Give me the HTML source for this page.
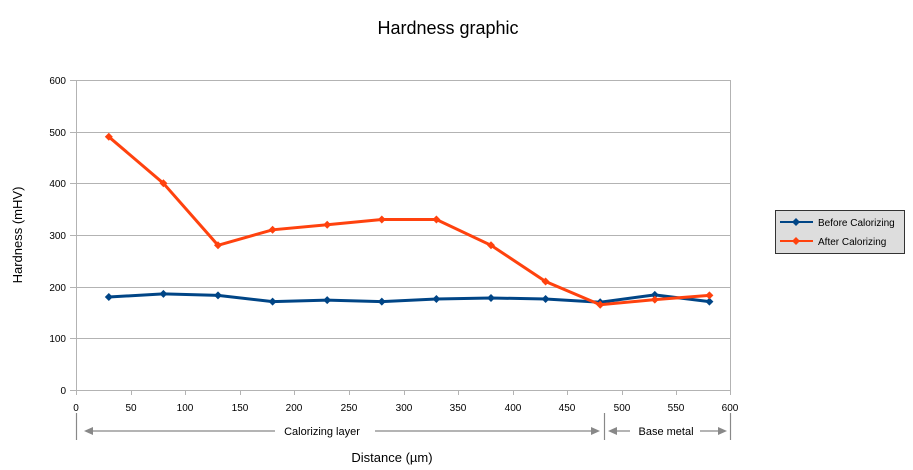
<!DOCTYPE html><html><head><meta charset="utf-8"><style>body{margin:0;background:#fff}svg{display:block;font-family:"Liberation Sans",sans-serif}</style></head><body>
<svg width="913" height="470" xmlns="http://www.w3.org/2000/svg">
<text x="448" y="34" font-size="18" text-anchor="middle">Hardness graphic</text>
<g stroke="#b3b3b3" stroke-width="1">
<line x1="76" y1="80.5" x2="731" y2="80.5"/><line x1="76" y1="132.5" x2="731" y2="132.5"/><line x1="76" y1="183.5" x2="731" y2="183.5"/><line x1="76" y1="235.5" x2="731" y2="235.5"/><line x1="76" y1="287.5" x2="731" y2="287.5"/><line x1="76" y1="338.5" x2="731" y2="338.5"/>
<line x1="730.5" y1="80" x2="730.5" y2="390"/>
<line x1="70" y1="390.5" x2="731" y2="390.5"/><line x1="76.5" y1="80" x2="76.5" y2="395"/>
<line x1="70" y1="80.5" x2="76" y2="80.5"/><line x1="70" y1="132.5" x2="76" y2="132.5"/><line x1="70" y1="183.5" x2="76" y2="183.5"/><line x1="70" y1="235.5" x2="76" y2="235.5"/><line x1="70" y1="287.5" x2="76" y2="287.5"/><line x1="70" y1="338.5" x2="76" y2="338.5"/>
</g>
<g stroke="#b3b3b3">
<line x1="131.5" y1="390" x2="131.5" y2="395"/><line x1="185.5" y1="390" x2="185.5" y2="395"/><line x1="240.5" y1="390" x2="240.5" y2="395"/><line x1="294.5" y1="390" x2="294.5" y2="395"/><line x1="349.5" y1="390" x2="349.5" y2="395"/><line x1="404.5" y1="390" x2="404.5" y2="395"/><line x1="458.5" y1="390" x2="458.5" y2="395"/><line x1="513.5" y1="390" x2="513.5" y2="395"/><line x1="567.5" y1="390" x2="567.5" y2="395"/><line x1="622.5" y1="390" x2="622.5" y2="395"/><line x1="676.5" y1="390" x2="676.5" y2="395"/><line x1="730.5" y1="390" x2="730.5" y2="395"/>
</g>
<g font-size="10" text-anchor="end">
<text x="66" y="84">600</text><text x="66" y="136">500</text><text x="66" y="187">400</text><text x="66" y="239">300</text><text x="66" y="291">200</text><text x="66" y="342">100</text><text x="66" y="394">0</text></g>
<g font-size="10" text-anchor="middle">
<text x="76" y="411">0</text><text x="131" y="411">50</text><text x="185" y="411">100</text><text x="240" y="411">150</text><text x="294" y="411">200</text><text x="349" y="411">250</text><text x="404" y="411">300</text><text x="458" y="411">350</text><text x="513" y="411">400</text><text x="567" y="411">450</text><text x="622" y="411">500</text><text x="676" y="411">550</text><text x="730" y="411">600</text></g>
<text x="22" y="235" font-size="13" text-anchor="middle" transform="rotate(-90 22 235)">Hardness (mHV)</text>
<text x="392" y="462" font-size="13" text-anchor="middle">Distance (µm)</text>
<g stroke="#888" stroke-width="1.2" fill="#888">
<line x1="76.5" y1="413" x2="76.5" y2="440"/><line x1="604.5" y1="413" x2="604.5" y2="440"/><line x1="730.5" y1="413" x2="730.5" y2="440"/>
<line x1="86" y1="431" x2="275" y2="431"/><line x1="375" y1="431" x2="596" y2="431"/>
<line x1="612" y1="431" x2="630" y2="431"/><line x1="700" y1="431" x2="722" y2="431"/>
<polygon points="84,431 93,427 93,435" stroke="none"/><polygon points="600,431 591,427 591,435" stroke="none"/>
<polygon points="608,431 617,427 617,435" stroke="none"/><polygon points="727,431 718,427 718,435" stroke="none"/>
</g>
<text x="322" y="435" font-size="11" text-anchor="middle">Calorizing layer</text>
<text x="666" y="435" font-size="11" text-anchor="middle">Base metal</text>
<defs><path id="d" d="M0,-4L4,0L0,4L-4,0Z"/></defs>
<polyline fill="none" stroke="#004586" stroke-width="3" points="108.8,297 163.4,293.9 218,295.4 272.6,301.6 327.2,300.1 381.8,301.6 436.4,299 491,298 545.6,299 600.2,302.2 654.8,294.9 709.4,301.6"/>
<g fill="#004586"><use href="#d" x="108.8" y="297"/><use href="#d" x="163.4" y="293.9"/><use href="#d" x="218" y="295.4"/><use href="#d" x="272.6" y="301.6"/><use href="#d" x="327.2" y="300.1"/><use href="#d" x="381.8" y="301.6"/><use href="#d" x="436.4" y="299"/><use href="#d" x="491" y="298"/><use href="#d" x="545.6" y="299"/><use href="#d" x="600.2" y="302.2"/><use href="#d" x="654.8" y="294.9"/><use href="#d" x="709.4" y="301.6"/></g>
<polyline fill="none" stroke="#ff420e" stroke-width="3" points="108.8,136.8 163.4,183.3 218,245.3 272.6,229.8 327.2,224.7 381.8,219.5 436.4,219.5 491,245.3 545.6,281.5 600.2,304.7 654.8,299.6 709.4,295.4"/>
<g fill="#ff420e"><use href="#d" x="108.8" y="136.8"/><use href="#d" x="163.4" y="183.3"/><use href="#d" x="218" y="245.3"/><use href="#d" x="272.6" y="229.8"/><use href="#d" x="327.2" y="224.7"/><use href="#d" x="381.8" y="219.5"/><use href="#d" x="436.4" y="219.5"/><use href="#d" x="491" y="245.3"/><use href="#d" x="545.6" y="281.5"/><use href="#d" x="600.2" y="304.7"/><use href="#d" x="654.8" y="299.6"/><use href="#d" x="709.4" y="295.4"/></g>
<rect x="775.5" y="210.5" width="129" height="43" fill="#ddd" stroke="#333"/>
<line x1="780" y1="222" x2="813" y2="222" stroke="#004586" stroke-width="2"/><use href="#d" x="796" y="222" fill="#004586"/>
<line x1="780" y1="241" x2="813" y2="241" stroke="#ff420e" stroke-width="2"/><use href="#d" x="796" y="241" fill="#ff420e"/>
<text x="818" y="226" font-size="10">Before Calorizing</text>
<text x="818" y="245" font-size="10">After Calorizing</text>
</svg></body></html>
